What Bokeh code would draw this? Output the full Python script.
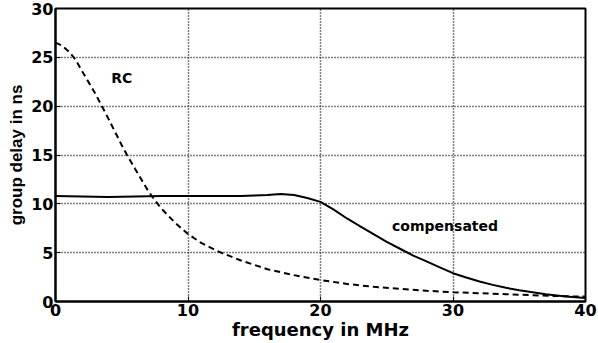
from bokeh.plotting import figure
from bokeh.models import Range1d, FixedTicker, Label
from bokeh.embed import file_html
from bokeh.resources import INLINE

# data
freq_rc = [0, 0.5, 1, 1.5, 2, 3, 3.5, 4, 5, 5.4, 6, 7, 7.6, 8, 9, 10, 11, 12, 12.5,
           14, 16, 18, 20, 22, 24, 26, 28, 30, 32, 34, 36, 38, 40]
delay_rc = [26.5, 26.2, 25.6, 24.8, 23.6, 21.3, 20.0, 18.7, 16.0, 15.0, 13.6, 11.3,
            10.2, 9.5, 8.1, 6.9, 6.0, 5.3, 5.0, 4.2, 3.3, 2.7, 2.2, 1.8, 1.5, 1.3,
            1.1, 0.95, 0.85, 0.75, 0.65, 0.55, 0.5]

freq_comp = [0, 2, 4, 6, 8, 10, 12, 14, 15, 16, 17, 18, 19, 20, 21, 22, 23, 24, 25,
             26, 27, 28, 29, 30, 31, 32, 33, 34, 35, 36, 37, 38, 39, 40]
delay_comp = [10.8, 10.75, 10.7, 10.75, 10.8, 10.8, 10.8, 10.8, 10.85, 10.9, 11.0,
              10.9, 10.6, 10.2, 9.4, 8.5, 7.7, 6.9, 6.1, 5.4, 4.7, 4.1, 3.5, 2.9,
              2.45, 2.05, 1.7, 1.4, 1.15, 0.95, 0.75, 0.6, 0.45, 0.35]

x_ticks = [0, 10, 20, 30, 40]
y_ticks = [0, 5, 10, 15, 20, 25, 30]

p = figure(width=598, height=343, output_backend="svg", toolbar_location=None,
           x_range=Range1d(0, 40), y_range=Range1d(0, 30),
           min_border_left=55, min_border_right=13, min_border_top=8,
           min_border_bottom=42)

p.background_fill_color = "white"
p.border_fill_color = "white"
p.outline_line_color = "black"
p.outline_line_width = 2

p.xaxis.ticker = FixedTicker(ticks=x_ticks)
p.yaxis.ticker = FixedTicker(ticks=y_ticks)

for ax in (p.xaxis[0], p.yaxis[0]):
    ax.axis_line_color = "black"
    ax.axis_line_width = 2
    ax.major_tick_in = 5
    ax.major_tick_out = 0
    ax.major_tick_line_color = "black"
    ax.minor_tick_line_color = None
    ax.major_label_text_font = "DejaVu Sans"
    ax.major_label_text_font_style = "bold"
    ax.major_label_text_font_size = "16px"
    ax.major_label_text_color = "black"
    ax.axis_label_text_color = "black"

p.xaxis.axis_label = "frequency in MHz"
p.xaxis.axis_label_text_font = "DejaVu Sans"
p.xaxis.axis_label_text_font_style = "bold"
p.xaxis.axis_label_text_font_size = "18px"
p.xaxis.axis_label_standoff = 0
p.xaxis.major_label_standoff = 2

p.yaxis.axis_label = "group delay in ns"
p.yaxis.axis_label_text_font = "Liberation Sans"
p.yaxis.axis_label_text_font_style = "bold"
p.yaxis.axis_label_text_font_size = "17px"
p.yaxis.axis_label_standoff = 2
p.yaxis.major_label_standoff = 2

for g in (p.xgrid[0], p.ygrid[0]):
    g.grid_line_color = "black"
    g.grid_line_dash = "1 2"
    g.grid_line_width = 1.5

p.line(freq_rc, delay_rc, line_color="black", line_width=2, line_dash="6 4")
p.line(freq_comp, delay_comp, line_color="black", line_width=2)

p.add_layout(Label(x=5, y=22.9, text="RC", text_font="DejaVu Sans",
                   text_font_style="bold", text_font_size="14px", text_color="black",
                   text_align="center", text_baseline="middle"))
p.add_layout(Label(x=29.4, y=7.7, text="compensated", text_font="DejaVu Sans",
                   text_font_style="bold", text_font_size="14px", text_color="black",
                   text_align="center", text_baseline="middle"))

open("out.html", "w").write(file_html(p, INLINE))
